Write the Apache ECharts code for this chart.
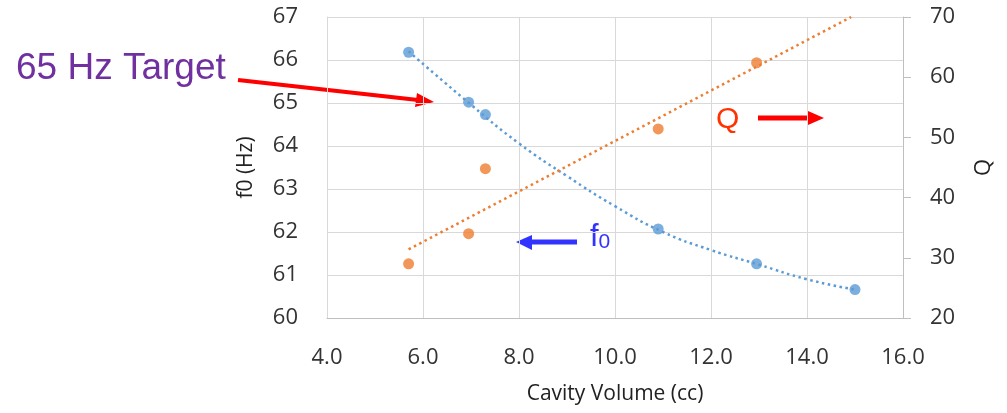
<!DOCTYPE html>
<html>
<head>
<meta charset="utf-8">
<script src="https://cdn.jsdelivr.net/npm/echarts@6/dist/echarts.min.js"></script>
<style>
  html, body { margin: 0; padding: 0; background: #fff; }
  #ch-main { width: 1007px; height: 413px; }
</style>
</head>
<body>
<div id="ch-main"></div>
<script>
// measured points
let volume = [5.7, 6.95, 7.3, 10.9, 12.95, 15.0]
let f0 = [66.18, 65.02, 64.73, 62.07, 61.26, 60.66]
let qVolume = [5.7, 6.95, 7.3, 10.9, 12.95]
let q = [29.0, 34.0, 44.8, 51.4, 62.4]

// trendlines
let f0TrendX = [5.7, 7.0, 8.0, 9.0, 10.0, 11.0, 12.0, 13.0, 14.0, 15.0]
let f0Trend = [66.2, 64.96, 64.06, 63.3, 62.6, 62.0, 61.58, 61.24, 60.9, 60.66]
let qTrendX = [5.7, 14.92]
let qTrend = [31.4, 70]

let xTicks = [4, 6, 8, 10, 12, 14, 16]

let blue = '#5B9BD5'
let orange = '#ED7D31'
let font = 'Open Sans'

let main = echarts.init(document.getElementById('ch-main'))

function pairs(xs, ys) {
    return xs.map((x, i) => [x, ys[i]])
}

let option = {
    animation: false,
    textStyle: { fontFamily: font },
    grid: { left: 327, right: 104, top: 17, bottom: 95 },
    xAxis: {
        type: 'value',
        min: xTicks[0],
        max: xTicks[xTicks.length - 1],
        interval: 2,
        name: 'Cavity Volume (cc)',
        nameLocation: 'middle',
        nameGap: 66,
        nameTextStyle: { fontSize: 21, color: '#222', fontFamily: font },
        axisLine: { lineStyle: { color: '#BFBFBF', width: 1 } },
        axisTick: { show: false },
        axisLabel: { fontSize: 22, color: '#333', margin: 29, formatter: v => v.toFixed(1) },
        splitLine: { lineStyle: { color: '#D9D9D9', width: 1 } }
    },
    yAxis: [
        {
            type: 'value',
            min: 60,
            max: 67,
            interval: 1,
            name: 'f0 (Hz)',
            nameLocation: 'middle',
            nameGap: 70,
            nameRotate: 90,
            nameTextStyle: { fontSize: 21, color: '#222', fontFamily: font },
            axisLine: { show: true, lineStyle: { color: '#D9D9D9', width: 1 } },
            axisTick: { show: false },
            axisLabel: { fontSize: 22, color: '#333', margin: 29 },
            splitLine: { lineStyle: { color: '#D9D9D9', width: 1 } }
        },
        {
            type: 'value',
            min: 20,
            max: 70,
            interval: 10,
            position: 'right',
            name: 'Q',
            nameLocation: 'middle',
            nameGap: 70,
            nameRotate: 90,
            nameTextStyle: { fontSize: 22, color: '#222', fontFamily: font },
            axisLine: { show: true, lineStyle: { color: '#BFBFBF', width: 1 } },
            axisTick: { show: true, length: 8, lineStyle: { color: '#BFBFBF' } },
            axisLabel: { fontSize: 22, color: '#333', margin: 27 },
            splitLine: { show: false }
        }
    ],
    series: [
        {
            type: 'line',
            name: 'f0 trend',
            yAxisIndex: 0,
            data: pairs(f0TrendX, f0Trend),
            smooth: true,
            showSymbol: false,
            lineStyle: { color: blue, width: 2.5, type: [2.5, 3.5] },
            z: 1
        },
        {
            type: 'line',
            name: 'Q trend',
            yAxisIndex: 1,
            data: pairs(qTrendX, qTrend),
            showSymbol: false,
            lineStyle: { color: orange, width: 2.5, type: [2.5, 3.5] },
            z: 1
        },
        {
            type: 'scatter',
            name: 'f0',
            yAxisIndex: 0,
            data: pairs(volume, f0),
            symbolSize: 11,
            itemStyle: { color: blue },
            z: 3
        },
        {
            type: 'scatter',
            name: 'Q',
            yAxisIndex: 1,
            data: pairs(qVolume, q),
            symbolSize: 11,
            itemStyle: { color: orange },
            z: 3
        }
    ],
    graphic: [
        // 65 Hz target label + arrow
        {
            type: 'text', left: 16, top: 50,
            style: { text: '65 Hz Target', fill: '#7030A0', font: '37px "Liberation Sans"' }
        },
        {
            type: 'line', shape: { x1: 238, y1: 80, x2: 418, y2: 100 },
            style: { stroke: '#FF0000', lineWidth: 4 }
        },
        {
            type: 'polygon', shape: { points: [[434, 102], [417, 93], [415, 107]] },
            style: { fill: '#FF0000' }
        },
        // Q label + arrow
        {
            type: 'text', left: 716, top: 105,
            style: { text: 'Q', fill: '#FF3300', font: '30px "Liberation Sans"' }
        },
        {
            type: 'line', shape: { x1: 758, y1: 118, x2: 810, y2: 118 },
            style: { stroke: '#FF0000', lineWidth: 5 }
        },
        {
            type: 'polygon', shape: { points: [[824, 118], [808, 111], [808, 125]] },
            style: { fill: '#FF0000' }
        },
        // f0 label + arrow
        {
            type: 'line', shape: { x1: 577, y1: 242, x2: 530, y2: 242 },
            style: { stroke: '#3333FF', lineWidth: 5 }
        },
        {
            type: 'polygon', shape: { points: [[516, 242], [532, 235], [532, 250]] },
            style: { fill: '#3333FF' }
        },
        {
            type: 'text', left: 590, top: 222,
            style: {
                text: '{a|f}{b|0}',
                rich: {
                    a: { fill: '#3333FF', fontSize: 31, fontFamily: 'Liberation Sans', verticalAlign: 'bottom' },
                    b: { fill: '#3333FF', fontSize: 21, fontFamily: 'Liberation Sans', padding: [14, 0, 0, 0] }
                }
            }
        }
    ]
}

main.setOption(option)
</script>
</body>
</html>
